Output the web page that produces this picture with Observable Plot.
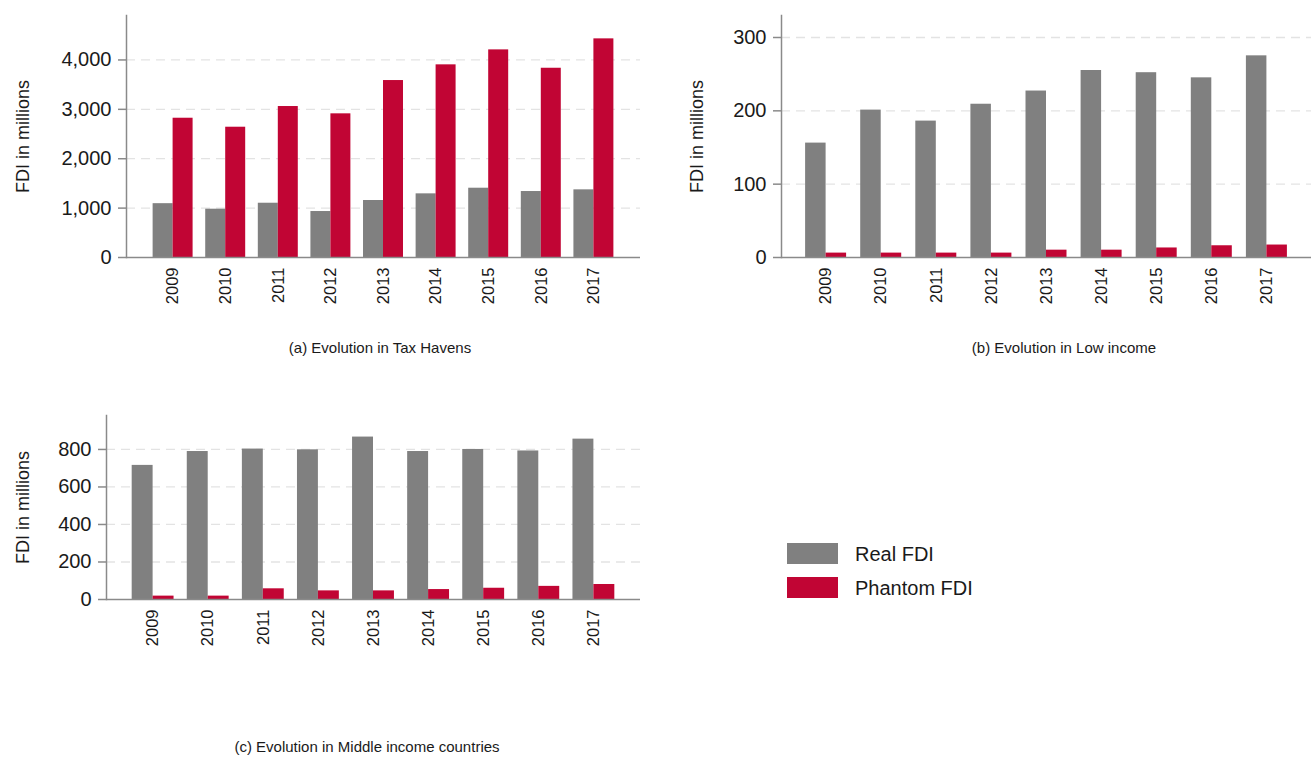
<!DOCTYPE html>
<html>
<head>
<meta charset="utf-8">
<script src="https://cdn.jsdelivr.net/npm/d3@7"></script>
<script src="https://cdn.jsdelivr.net/npm/@observablehq/plot@0.6"></script>
<style>
  html, body { margin: 0; padding: 0; background: #fff; }
  #root { position: relative; width: 1311px; height: 757px; overflow: hidden;
          font-family: "Liberation Sans", Arial, Helvetica, sans-serif; color: #1a1a1a; }
  .panel { position: absolute; }
  .panel svg { overflow: visible; }
  .caption { position: absolute; font-size: 15px; line-height: 15px; white-space: nowrap;
             transform: translate(-50%, -50%); color: #1a1a1a; }
  .legend-row { position: absolute; display: flex; align-items: center; font-size: 20px; line-height: 20px; }
  .legend-row .sw { width: 51px; height: 21px; margin-right: 17px; }
</style>
</head>
<body>
<div id="root"></div>
<script>
// ---------------- data ----------------
const years = ["2009", "2010", "2011", "2012", "2013", "2014", "2015", "2016", "2017"];
const seriesNames = ["Real FDI", "Phantom FDI"];
const seriesColors = ["#808080", "#c10534"];
const yAxisTitle = "FDI in millions";

const taxHavensReal    = [1090, 978, 1099, 931, 1154, 1289, 1403, 1336, 1370];
const taxHavensPhantom = [2820, 2638, 3057, 2909, 3583, 3901, 4204, 3832, 4427];
const taxHavensTicks   = [0, 1000, 2000, 3000, 4000];

const lowIncomeReal    = [156, 201, 186, 209, 227, 255, 252, 245, 275];
const lowIncomePhantom = [6, 6, 6, 6, 10, 10, 13, 16, 17];
const lowIncomeTicks   = [0, 100, 200, 300];

const middleIncomeReal    = [715, 789, 802, 798, 866, 789, 800, 792, 855];
const middleIncomePhantom = [18, 18, 57, 46, 46, 53, 60, 70, 80];
const middleIncomeTicks   = [0, 200, 400, 600, 800];

const captionTexts = [
  "(a) Evolution in Tax Havens",
  "(b) Evolution in Low income",
  "(c) Evolution in Middle income countries"
];

// ---------------- layout / style ----------------
const FONT = '"Liberation Sans", Arial, Helvetica, sans-serif';
const AXIS = "#8a8a8a";
const GRID = "#e3e3e3";
const root = document.getElementById("root");

const panels = [
  { real: taxHavensReal, phantom: taxHavensPhantom, ticks: taxHavensTicks, ymax: 4900,
    left: 0, top: 0, width: 660, height: 320, ml: 126, mr: 20, mt: 15, mb: 63,
    pi: 0.24, po: 0.506, labelDx: -103,
    caption: captionTexts[0], capX: 380, capY: 347 },
  { real: lowIncomeReal, phantom: lowIncomePhantom, ticks: lowIncomeTicks, ymax: 330,
    left: 660, top: 0, width: 651, height: 320, ml: 121, mr: 0, mt: 15, mb: 63,
    pi: 0.256, po: 0.4375, labelDx: -84,
    caption: captionTexts[1], capX: 1064, capY: 347 },
  { real: middleIncomeReal, phantom: middleIncomePhantom, ticks: middleIncomeTicks, ymax: 981,
    left: 0, top: 400, width: 660, height: 262, ml: 106, mr: 20, mt: 15, mb: 63,
    pi: 0.24, po: 0.466, labelDx: -83.5,
    caption: captionTexts[2], capX: 367, capY: 746 }
];

function buildPlot(cfg, bw) {
  const rows = years.flatMap((yr, i) => [
    { year: yr, series: seriesNames[0], value: cfg.real[i] },
    { year: yr, series: seriesNames[1], value: cfg.phantom[i] }
  ]);
  const half = bw / 2;
  return Plot.plot({
    width: cfg.width,
    height: cfg.height,
    marginLeft: cfg.ml,
    marginRight: cfg.mr,
    marginTop: cfg.mt,
    marginBottom: cfg.mb,
    style: { fontFamily: FONT, background: "transparent", color: "#1a1a1a" },
    x: { domain: years, paddingInner: cfg.pi, paddingOuter: cfg.po, round: false },
    y: { domain: [0, cfg.ymax] },
    marks: [
      Plot.ruleY(cfg.ticks.filter(d => d > 0), { stroke: GRID, strokeWidth: 1.3, strokeDasharray: "9,6" }),
      Plot.barY(rows.filter(d => d.series === seriesNames[0]),
        { x: "year", y: "value", fill: seriesColors[0], insetLeft: 0, insetRight: half }),
      Plot.barY(rows.filter(d => d.series === seriesNames[1]),
        { x: "year", y: "value", fill: seriesColors[1], insetLeft: half, insetRight: 0 }),
      Plot.axisY({ ticks: cfg.ticks, tickFormat: d3.format(","), tickSize: 8, tickPadding: 7,
        fontSize: 20, stroke: AXIS, strokeWidth: 1.5, fill: "#1a1a1a", label: null }),
      Plot.axisX({ tickSize: 0, tickPadding: 10, tickRotate: -90, fontSize: 16.5,
        fill: "#1a1a1a", label: null }),
      Plot.ruleY([0], { stroke: AXIS, strokeWidth: 1.5 }),
      Plot.frame({ anchor: "left", stroke: AXIS, strokeWidth: 1.5 }),
      Plot.text([yAxisTitle], { text: d => d, frameAnchor: "left", textAnchor: "middle",
        lineAnchor: "middle", rotate: -90, dx: cfg.labelDx, fontSize: 18, fill: "#1a1a1a" })
    ]
  });
}

for (const cfg of panels) {
  const first = buildPlot(cfg, 0);
  const bw = first.scale("x").bandwidth;
  const chart = buildPlot(cfg, bw);
  const holder = document.createElement("div");
  holder.className = "panel";
  holder.style.left = cfg.left + "px";
  holder.style.top = cfg.top + "px";
  holder.appendChild(chart);
  root.appendChild(holder);

  const cap = document.createElement("div");
  cap.className = "caption";
  cap.style.left = cfg.capX + "px";
  cap.style.top = cfg.capY + "px";
  cap.textContent = cfg.caption;
  root.appendChild(cap);
}

// legend
const legendTops = [543, 577];
seriesNames.forEach((name, i) => {
  const row = document.createElement("div");
  row.className = "legend-row";
  row.style.left = "787px";
  row.style.top = legendTops[i] + "px";
  const sw = document.createElement("div");
  sw.className = "sw";
  sw.style.background = seriesColors[i];
  const lab = document.createElement("span");
  lab.textContent = name;
  row.appendChild(sw);
  row.appendChild(lab);
  root.appendChild(row);
});
</script>
</body>
</html>
